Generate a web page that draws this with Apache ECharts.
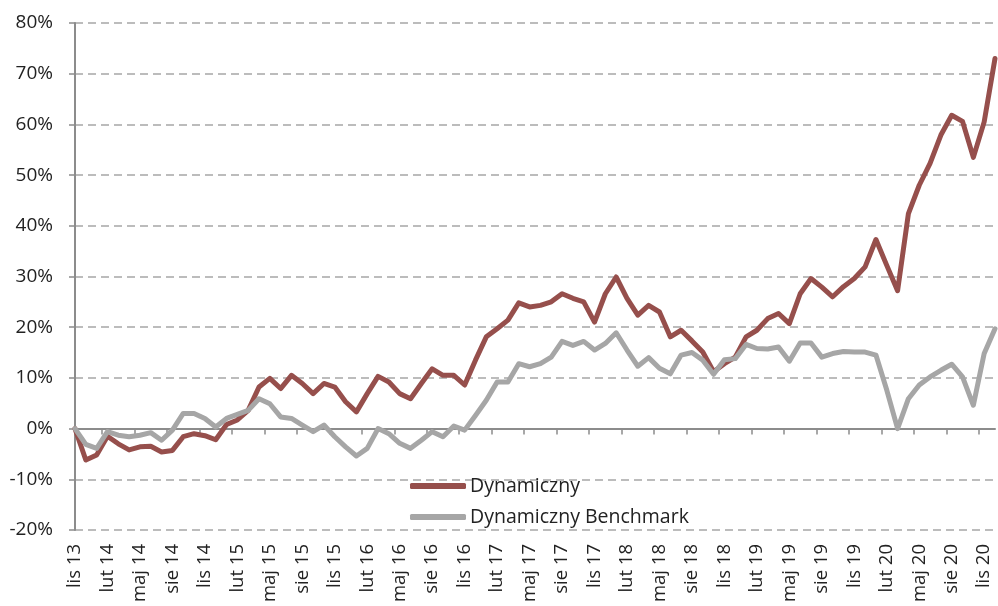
<!DOCTYPE html>
<html>
<head>
<meta charset="utf-8">
<script src="https://cdn.jsdelivr.net/npm/echarts@6/dist/echarts.min.js"></script>
<style>
html,body{margin:0;padding:0;background:#fff;}
#chart{width:998px;height:606px;}
</style>
</head>
<body>
<div id="chart"></div>
<script>
const categories = [
  'lis 13','gru 13','sty 14','lut 14','mar 14','kwi 14','maj 14','cze 14','lip 14','sie 14','wrz 14','paź 14',
  'lis 14','gru 14','sty 15','lut 15','mar 15','kwi 15','maj 15','cze 15','lip 15','sie 15','wrz 15','paź 15',
  'lis 15','gru 15','sty 16','lut 16','mar 16','kwi 16','maj 16','cze 16','lip 16','sie 16','wrz 16','paź 16',
  'lis 16','gru 16','sty 17','lut 17','mar 17','kwi 17','maj 17','cze 17','lip 17','sie 17','wrz 17','paź 17',
  'lis 17','gru 17','sty 18','lut 18','mar 18','kwi 18','maj 18','cze 18','lip 18','sie 18','wrz 18','paź 18',
  'lis 18','gru 18','sty 19','lut 19','mar 19','kwi 19','maj 19','cze 19','lip 19','sie 19','wrz 19','paź 19',
  'lis 19','gru 19','sty 20','lut 20','mar 20','kwi 20','maj 20','cze 20','lip 20','sie 20','wrz 20','paź 20',
  'lis 20','gru 20'
];

const dynamiczny = [
  0, -6.2, -5.2, -1.5, -3.0, -4.2, -3.6, -3.5, -4.6, -4.3, -1.6, -1.0,
  -1.4, -2.2, 0.8, 1.7, 3.6, 8.2, 9.9, 7.9, 10.5, 8.9, 6.9, 8.9,
  8.2, 5.3, 3.3, 6.9, 10.3, 9.2, 6.9, 5.9, 8.9, 11.8, 10.5, 10.5,
  8.6, 13.5, 18.1, 19.7, 21.4, 24.8, 24.0, 24.3, 25.0, 26.6, 25.7, 25.0,
  21.0, 26.6, 29.9, 25.7, 22.4, 24.3, 23.0, 18.1, 19.4, 17.3, 15.1, 11.2,
  12.8, 14.1, 18.1, 19.4, 21.7, 22.7, 20.7, 26.6, 29.6, 27.9, 26.0, 28.0,
  29.6, 31.9, 37.3, 32.2, 27.2, 42.4, 48.0, 52.3, 57.9, 61.8, 60.6, 53.5,
  60.5, 73.0
];

const benchmark = [
  0, -3.1, -3.9, -0.6, -1.3, -1.6, -1.3, -0.8, -2.3, -0.3, 3.0, 3.0,
  2.0, 0.3, 2.0, 2.8, 3.6, 5.9, 4.9, 2.3, 2.0, 0.7, -0.6, 0.7,
  -1.6, -3.6, -5.4, -3.9, 0, -1.0, -2.9, -3.9, -2.3, -0.6, -1.6, 0.5,
  -0.3, 2.6, 5.6, 9.2, 9.2, 12.8, 12.2, 12.8, 14.1, 17.2, 16.4, 17.2,
  15.5, 16.8, 18.9, 15.5, 12.3, 14.0, 11.9, 10.8, 14.5, 15.0, 13.5, 10.7,
  13.6, 13.8, 16.6, 15.8, 15.7, 16.1, 13.3, 16.9, 16.9, 14.1, 14.8, 15.2,
  15.1, 15.1, 14.5, 7.6, 0, 5.9, 8.6, 10.2, 11.5, 12.7, 10.2, 4.6,
  14.8, 19.7
];

const seriesNames = ['Dynamiczny', 'Dynamiczny Benchmark'];
const yMin = -20, yMax = 80, yStep = 10;

const FONT = 'Open Sans';
const GL = 75, GW = 920, GT = 23, GH = 507;
const step = GW / (categories.length - 1);
const zeroY = GT + GH * (yMax - 0) / (yMax - yMin);

const chart = echarts.init(document.getElementById('chart'), null, {renderer: 'canvas'});
chart.setOption({
  animation: false,
  backgroundColor: '#fff',
  textStyle: {fontFamily: FONT},
  grid: [
    {left: GL, width: GW, top: GT, height: GH, containLabel: false},
    {left: GL + 2.5 * step, width: 81 * step, top: zeroY - 1, height: 1, containLabel: false}
  ],
  legend: {
    orient: 'vertical',
    left: 410, top: 476, padding: 0,
    itemWidth: 56, itemHeight: 6, itemGap: 11,
    icon: 'roundRect',
    textStyle: {fontFamily: FONT, fontSize: 19.5, color: '#222', padding: [0,0,0,-1]},
    data: seriesNames
  },
  xAxis: [
    {
      type: 'category', gridIndex: 0, data: categories, boundaryGap: false,
      position: 'bottom',
      axisLine: {show: false, onZero: false},
      axisTick: {show: false},
      axisLabel: {interval: 2, rotate: 90, margin: 14, fontSize: 18.5, color: '#222', fontFamily: FONT},
      splitLine: {show: false}
    },
    {
      type: 'category', gridIndex: 0, data: categories, boundaryGap: false,
      position: 'top',
      axisLine: {show: true, onZero: true, lineStyle: {color: '#8c8c8c', width: 2}},
      axisTick: {show: false},
      axisLabel: {show: false},
      splitLine: {show: false}
    },
    {
      type: 'value', gridIndex: 1, min: 2.5, max: 83.5, interval: 3,
      position: 'bottom',
      axisLine: {show: false},
      axisTick: {show: true, length: 6, lineStyle: {color: '#8c8c8c', width: 1.5}},
      axisLabel: {show: false},
      splitLine: {show: false}
    }
  ],
  yAxis: [
    {
      type: 'value', gridIndex: 0, min: yMin, max: yMax, interval: yStep,
      axisLine: {show: true, lineStyle: {color: '#8c8c8c', width: 2}},
      axisTick: {show: true, length: 6, lineStyle: {color: '#8c8c8c', width: 1.5}},
      axisLabel: {formatter: '{value}%', fontSize: 19, color: '#222', margin: 22, fontFamily: FONT},
      splitLine: {show: true, lineStyle: {color: '#a6a6a6', width: 1.5, type: [8, 5]}}
    },
    {type: 'value', gridIndex: 1, show: false, min: 0, max: 1}
  ],
  series: [
    {
      name: seriesNames[0], type: 'line', xAxisIndex: 0, yAxisIndex: 0,
      data: dynamiczny, showSymbol: false, symbol: 'none',
      lineStyle: {color: '#964f4c', width: 5, cap: 'round', join: 'round'},
      itemStyle: {color: '#964f4c'}
    },
    {
      name: seriesNames[1], type: 'line', xAxisIndex: 0, yAxisIndex: 0,
      data: benchmark, showSymbol: false, symbol: 'none',
      lineStyle: {color: '#a6a6a6', width: 5, cap: 'round', join: 'round'},
      itemStyle: {color: '#a6a6a6'}
    }
  ]
});
</script>
</body>
</html>
